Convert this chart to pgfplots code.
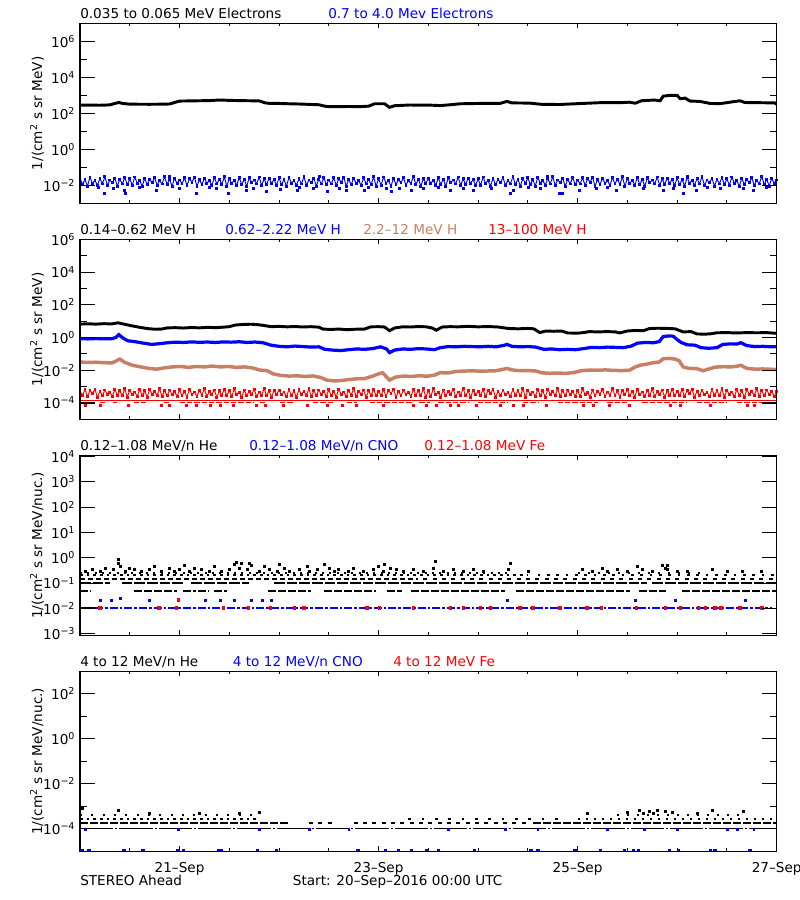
\documentclass[border=0pt]{standalone}
\usepackage{fontspec}
\setmainfont{DejaVu Sans}
\usepackage{pgfplots}
\pgfplotsset{compat=1.18}
\usepackage{pgfplotstable}
\definecolor{hbrown}{RGB}{200,128,100}
\definecolor{pblue}{RGB}{0,0,255}
\definecolor{pred}{RGB}{255,0,0}

% panel 1: 0.035-0.065 MeV electrons
\pgfplotstableread{
x y
0.00 290
0.10 285
0.20 282
0.30 295
0.35 355
0.39 400
0.43 355
0.50 325
0.60 320
0.70 318
0.80 322
0.90 330
0.95 400
1.00 480
1.10 490
1.20 500
1.30 510
1.40 550
1.50 525
1.60 510
1.70 500
1.80 490
1.86 380
1.90 360
2.00 355
2.10 340
2.20 330
2.30 315
2.40 300
2.46 250
2.50 235
2.60 235
2.70 240
2.80 235
2.90 250
2.96 340
3.06 340
3.11 215
3.16 265
3.31 290
3.52 285
3.62 270
3.72 300
3.82 340
4.02 355
4.22 355
4.29 460
4.34 380
4.52 370
4.64 315
4.82 310
5.05 355
5.22 390
5.42 390
5.52 415
5.58 365
5.64 500
5.77 550
5.83 500
5.86 900
5.93 1000
6.00 1000
6.03 650
6.08 700
6.13 480
6.23 460
6.33 355
6.43 345
6.53 415
6.63 500
6.68 400
6.83 390
6.98 380
7.00 320
}\tabElow

% noisy bands: b = 0.7-4.0 MeV electrons, r = 13-100 MeV H
\pgfplotstableread{
x b r
0 0.026 5.0e-4
0.025 0.011 3.0e-4
0.05 0.021 6.5e-4
0.075 0.009 2.5e-4
0.1 0.028 5.75e-4
0.125 0.013 3.75e-4
0.15 0.019 7.0e-4
0.175 0.010 2.25e-4
0.2 0.024 5.25e-4
0.225 0.012 2.75e-4
0.25 0.030 6.25e-4
0.275 0.010 3.25e-4
0.3 0.020 4.5e-4
0.325 0.014 2.5e-4
0.35 0.025 6.75e-4
0.375 0.009 3.0e-4
0.4 0.022 5.5e-4
0.425 0.012 2.75e-4
0.45 0.027 7.5e-4
0.475 0.011 2.25e-4
0.5 0.023 6.0e-4
0.525 0.010 3.25e-4
0.55 0.029 4.75e-4
0.575 0.013 2.5e-4
0.6 0.018 6.75e-4
0.625 0.009 2.75e-4
0.65 0.025 5.5e-4
0.675 0.011 2.25e-4
0.7 0.021 6.5e-4
0.725 0.014 3.5e-4
0.75 0.027 5.0e-4
0.775 0.010 3.0e-4
0.8 0.019 7.25e-4
0.825 0.012 2.5e-4
0.85 0.031 5.75e-4
0.875 0.011 2.75e-4
0.9 0.022 6.25e-4
0.925 0.009 3.25e-4
0.95 0.024 5.25e-4
0.975 0.013 2.5e-4
1 0.020 6.5e-4
1.025 0.012 2.75e-4
1.05 0.026 5.25e-4
1.075 0.010 2.25e-4
1.1 0.023 7.0e-4
1.125 0.015 3.25e-4
1.15 0.028 4.75e-4
1.175 0.009 2.5e-4
1.2 0.021 6.0e-4
1.225 0.011 3.0e-4
1.25 0.025 7.5e-4
1.275 0.013 2.5e-4
1.3 0.018 5.0e-4
1.325 0.010 3.5e-4
1.35 0.027 6.25e-4
1.375 0.012 2.25e-4
1.4 0.022 5.5e-4
1.425 0.011 3.0e-4
1.45 0.030 6.75e-4
1.475 0.009 2.75e-4
1.5 0.024 5.75e-4
1.525 0.013 2.5e-4
1.55 0.019 7.25e-4
1.575 0.010 3.25e-4
1.6 0.027 4.5e-4
1.625 0.011 2.25e-4
1.65 0.022 6.25e-4
1.675 0.009 2.75e-4
1.7 0.026 5.25e-4
1.725 0.014 3.5e-4
1.75 0.020 6.75e-4
1.775 0.012 2.5e-4
1.8 0.029 4.75e-4
1.825 0.010 3.0e-4
1.85 0.023 7.75e-4
1.875 0.011 2.75e-4
1.9 0.025 5.5e-4
1.925 0.013 2.25e-4
1.95 0.021 6.0e-4
1.975 0.010 3.25e-4
2 0.026 6.0e-4
2.025 0.011 3.25e-4
2.05 0.021 4.75e-4
2.075 0.009 2.5e-4
2.1 0.028 6.75e-4
2.125 0.013 2.75e-4
2.15 0.019 5.5e-4
2.175 0.010 2.25e-4
2.2 0.024 6.5e-4
2.225 0.012 3.5e-4
2.25 0.030 5.0e-4
2.275 0.010 3.0e-4
2.3 0.020 7.25e-4
2.325 0.014 2.5e-4
2.35 0.025 5.75e-4
2.375 0.009 2.75e-4
2.4 0.022 6.25e-4
2.425 0.012 3.25e-4
2.45 0.027 5.25e-4
2.475 0.011 2.5e-4
2.5 0.020 6.5e-4
2.525 0.012 2.75e-4
2.55 0.026 5.25e-4
2.575 0.010 2.25e-4
2.6 0.023 7.0e-4
2.625 0.015 3.25e-4
2.65 0.028 4.75e-4
2.675 0.009 2.5e-4
2.7 0.021 6.0e-4
2.725 0.011 3.0e-4
2.75 0.025 7.5e-4
2.775 0.013 2.5e-4
2.8 0.018 5.0e-4
2.825 0.010 3.5e-4
2.85 0.027 6.25e-4
2.875 0.012 2.25e-4
2.9 0.022 5.5e-4
2.925 0.011 3.0e-4
2.95 0.030 6.75e-4
2.975 0.009 2.75e-4
3 0.023 5.0e-4
3.025 0.010 3.0e-4
3.05 0.029 6.5e-4
3.075 0.013 2.5e-4
3.1 0.018 5.75e-4
3.125 0.009 3.75e-4
3.15 0.025 7.0e-4
3.175 0.011 2.25e-4
3.2 0.021 5.25e-4
3.225 0.014 2.75e-4
3.25 0.027 6.25e-4
3.275 0.010 3.25e-4
3.3 0.019 4.5e-4
3.325 0.012 2.5e-4
3.35 0.031 6.75e-4
3.375 0.011 3.0e-4
3.4 0.022 5.5e-4
3.425 0.009 2.75e-4
3.45 0.024 7.5e-4
3.475 0.013 2.25e-4
3.5 0.024 5.75e-4
3.525 0.013 2.5e-4
3.55 0.019 7.25e-4
3.575 0.010 3.25e-4
3.6 0.027 4.5e-4
3.625 0.011 2.25e-4
3.65 0.022 6.25e-4
3.675 0.009 2.75e-4
3.7 0.026 5.25e-4
3.725 0.014 3.5e-4
3.75 0.020 6.75e-4
3.775 0.012 2.5e-4
3.8 0.029 4.75e-4
3.825 0.010 3.0e-4
3.85 0.023 7.75e-4
3.875 0.011 2.75e-4
3.9 0.025 5.5e-4
3.925 0.013 2.25e-4
3.95 0.021 6.0e-4
3.975 0.010 3.25e-4
4 0.023 5.0e-4
4.025 0.010 3.0e-4
4.05 0.029 6.5e-4
4.075 0.013 2.5e-4
4.1 0.018 5.75e-4
4.125 0.009 3.75e-4
4.15 0.025 7.0e-4
4.175 0.011 2.25e-4
4.2 0.021 5.25e-4
4.225 0.014 2.75e-4
4.25 0.027 6.25e-4
4.275 0.010 3.25e-4
4.3 0.019 4.5e-4
4.325 0.012 2.5e-4
4.35 0.031 6.75e-4
4.375 0.011 3.0e-4
4.4 0.022 5.5e-4
4.425 0.009 2.75e-4
4.45 0.024 7.5e-4
4.475 0.013 2.25e-4
4.5 0.026 6.0e-4
4.525 0.011 3.25e-4
4.55 0.021 4.75e-4
4.575 0.009 2.5e-4
4.6 0.028 6.75e-4
4.625 0.013 2.75e-4
4.65 0.019 5.5e-4
4.675 0.010 2.25e-4
4.7 0.024 6.5e-4
4.725 0.012 3.5e-4
4.75 0.030 5.0e-4
4.775 0.010 3.0e-4
4.8 0.020 7.25e-4
4.825 0.014 2.5e-4
4.85 0.025 5.75e-4
4.875 0.009 2.75e-4
4.9 0.022 6.25e-4
4.925 0.012 3.25e-4
4.95 0.027 5.25e-4
4.975 0.011 2.5e-4
5 0.020 5.75e-4
5.025 0.012 2.5e-4
5.05 0.026 7.25e-4
5.075 0.010 3.25e-4
5.1 0.023 4.5e-4
5.125 0.015 2.25e-4
5.15 0.028 6.25e-4
5.175 0.009 2.75e-4
5.2 0.021 5.25e-4
5.225 0.011 3.5e-4
5.25 0.025 6.75e-4
5.275 0.013 2.5e-4
5.3 0.018 4.75e-4
5.325 0.010 3.0e-4
5.35 0.027 7.75e-4
5.375 0.012 2.75e-4
5.4 0.022 5.5e-4
5.425 0.011 2.25e-4
5.45 0.030 6.0e-4
5.475 0.009 3.25e-4
5.5 0.024 6.5e-4
5.525 0.013 2.75e-4
5.55 0.019 5.25e-4
5.575 0.010 2.25e-4
5.6 0.027 7.0e-4
5.625 0.011 3.25e-4
5.65 0.022 4.75e-4
5.675 0.009 2.5e-4
5.7 0.026 6.0e-4
5.725 0.014 3.0e-4
5.75 0.020 7.5e-4
5.775 0.012 2.5e-4
5.8 0.029 5.0e-4
5.825 0.010 3.5e-4
5.85 0.023 6.25e-4
5.875 0.011 2.25e-4
5.9 0.025 5.5e-4
5.925 0.013 3.0e-4
5.95 0.021 6.75e-4
5.975 0.010 2.75e-4
6 0.026 5.0e-4
6.025 0.011 3.0e-4
6.05 0.021 6.5e-4
6.075 0.009 2.5e-4
6.1 0.028 5.75e-4
6.125 0.013 3.75e-4
6.15 0.019 7.0e-4
6.175 0.010 2.25e-4
6.2 0.024 5.25e-4
6.225 0.012 2.75e-4
6.25 0.030 6.25e-4
6.275 0.010 3.25e-4
6.3 0.020 4.5e-4
6.325 0.014 2.5e-4
6.35 0.025 6.75e-4
6.375 0.009 3.0e-4
6.4 0.022 5.5e-4
6.425 0.012 2.75e-4
6.45 0.027 7.5e-4
6.475 0.011 2.25e-4
6.5 0.023 6.0e-4
6.525 0.010 3.25e-4
6.55 0.029 4.75e-4
6.575 0.013 2.5e-4
6.6 0.018 6.75e-4
6.625 0.009 2.75e-4
6.65 0.025 5.5e-4
6.675 0.011 2.25e-4
6.7 0.021 6.5e-4
6.725 0.014 3.5e-4
6.75 0.027 5.0e-4
6.775 0.010 3.0e-4
6.8 0.019 7.25e-4
6.825 0.012 2.5e-4
6.85 0.031 5.75e-4
6.875 0.011 2.75e-4
6.9 0.022 6.25e-4
6.925 0.009 3.25e-4
6.95 0.024 5.25e-4
6.975 0.013 2.5e-4
7 0.020 5.0e-4
}\tabBand

% panel 2 lines
\pgfplotstableread{
x y
0.00 6.6
0.08 6.9
0.16 6.6
0.24 7.0
0.32 6.8
0.38 7.9
0.44 6.6
0.52 5.2
0.60 4.2
0.68 3.5
0.76 3.2
0.82 3.3
0.88 3.9
0.96 4.0
1.04 3.8
1.12 4.1
1.20 3.9
1.28 4.2
1.36 4.0
1.44 4.3
1.50 4.6
1.56 5.8
1.64 6.3
1.72 6.5
1.80 6.0
1.86 5.3
1.92 4.6
2.00 4.8
2.08 4.5
2.16 4.7
2.24 4.4
2.32 4.6
2.40 4.3
2.44 3.3
2.52 3.1
2.60 3.3
2.68 3.0
2.76 3.2
2.86 3.3
2.92 4.5
3.00 4.6
3.06 4.4
3.11 2.6
3.16 3.8
3.24 4.5
3.32 4.4
3.40 4.7
3.48 4.5
3.54 3.8
3.58 2.8
3.64 4.4
3.72 4.6
3.80 4.5
3.90 4.8
4.00 4.5
4.10 4.7
4.20 4.4
4.30 3.6
4.40 3.4
4.50 3.6
4.56 3.4
4.62 2.0
4.68 2.5
4.76 2.4
4.84 2.5
4.90 1.9
5.00 1.85
5.06 2.0
5.12 2.3
5.20 2.2
5.30 2.3
5.38 2.2
5.42 1.9
5.50 2.5
5.58 2.7
5.66 2.6
5.72 3.5
5.80 3.7
5.90 3.6
5.98 3.4
6.06 2.2
6.14 2.3
6.20 1.65
6.28 1.6
6.34 1.7
6.40 1.95
6.50 2.0
6.60 1.9
6.70 2.0
6.80 1.95
6.90 2.0
7.00 1.8
}\tabHA

\pgfplotstableread{
x y
0.00 0.85
0.08 0.82
0.16 0.86
0.24 0.83
0.32 0.85
0.36 1.0
0.39 1.5
0.43 0.95
0.48 0.63
0.56 0.55
0.64 0.45
0.72 0.38
0.80 0.42
0.88 0.48
0.96 0.52
1.04 0.50
1.12 0.54
1.20 0.51
1.28 0.53
1.36 0.50
1.44 0.54
1.52 0.52
1.60 0.55
1.68 0.50
1.76 0.53
1.84 0.48
1.92 0.34
2.00 0.29
2.08 0.27
2.16 0.30
2.24 0.28
2.32 0.26
2.40 0.27
2.46 0.19
2.54 0.17
2.62 0.16
2.70 0.18
2.78 0.20
2.86 0.19
2.94 0.21
3.02 0.27
3.08 0.20
3.11 0.12
3.16 0.17
3.24 0.20
3.32 0.19
3.40 0.21
3.48 0.20
3.56 0.18
3.62 0.24
3.70 0.28
3.78 0.27
3.86 0.29
3.94 0.28
4.02 0.27
4.10 0.29
4.18 0.27
4.26 0.33
4.29 0.38
4.34 0.29
4.42 0.27
4.50 0.28
4.58 0.26
4.66 0.19
4.74 0.20
4.82 0.18
4.90 0.19
4.98 0.18
5.06 0.21
5.14 0.25
5.22 0.24
5.30 0.26
5.38 0.25
5.46 0.24
5.54 0.30
5.60 0.45
5.68 0.50
5.76 0.48
5.82 0.56
5.86 1.15
5.92 1.25
5.96 1.2
6.00 0.75
6.04 0.50
6.10 0.36
6.18 0.34
6.24 0.24
6.32 0.22
6.40 0.24
6.46 0.38
6.54 0.41
6.60 0.40
6.64 0.48
6.70 0.32
6.78 0.28
6.86 0.29
6.94 0.27
7.00 0.28
}\tabHB

\pgfplotstableread{
x y
0.00 0.032
0.08 0.030
0.16 0.031
0.24 0.029
0.32 0.028
0.36 0.036
0.40 0.048
0.45 0.030
0.53 0.020
0.61 0.016
0.69 0.013
0.77 0.0117
0.85 0.014
0.93 0.016
1.01 0.017
1.09 0.015
1.17 0.017
1.25 0.016
1.33 0.018
1.41 0.016
1.49 0.017
1.57 0.015
1.65 0.016
1.73 0.014
1.81 0.0102
1.88 0.0095
1.94 0.0060
2.02 0.0048
2.10 0.0044
2.18 0.0046
2.26 0.0042
2.34 0.0045
2.42 0.0036
2.48 0.0025
2.56 0.0022
2.64 0.0024
2.70 0.0027
2.78 0.0030
2.86 0.0031
2.94 0.0044
3.00 0.0060
3.04 0.0071
3.11 0.0025
3.17 0.0038
3.25 0.0044
3.33 0.0042
3.41 0.0046
3.49 0.0043
3.56 0.0050
3.62 0.0071
3.70 0.0068
3.78 0.0085
3.86 0.0089
3.94 0.0092
4.02 0.0088
4.10 0.0090
4.18 0.0093
4.24 0.0110
4.29 0.0129
4.34 0.0105
4.42 0.0093
4.50 0.0095
4.58 0.0090
4.64 0.0070
4.72 0.0065
4.80 0.0068
4.88 0.0064
4.96 0.0072
5.04 0.0095
5.12 0.0102
5.20 0.0100
5.28 0.0105
5.36 0.0098
5.44 0.0095
5.52 0.0100
5.58 0.0160
5.64 0.021
5.70 0.024
5.76 0.029
5.82 0.032
5.86 0.050
5.92 0.053
5.98 0.048
6.02 0.038
6.06 0.016
6.12 0.013
6.20 0.0125
6.26 0.0093
6.32 0.0120
6.38 0.0155
6.46 0.0165
6.54 0.0160
6.60 0.0175
6.64 0.020
6.70 0.0130
6.78 0.0117
6.86 0.0120
6.94 0.0115
7.00 0.0110
}\tabHC

\begin{document}
\fontsize{10.2pt}{12pt}\selectfont
\begin{tikzpicture}
\path[use as bounding box] (0,0) rectangle (600pt,-675pt);

% ---------------- panel 1
\begin{axis}[at={(60pt,-17.5pt)}, anchor=north west, scale only axis, width=522.5pt, height=135pt,
  xmin=0, xmax=7, ymode=log, ymin=1e-3, ymax=1e7,
  axis line style={line width=0.8pt}, tick style={line width=0.8pt, black}, tick align=inside,
  xtick={1,3,5,7}, minor xtick={0.5,1.5,2,2.5,3.5,4,4.5,5.5,6,6.5}, xticklabels={,,,}, ytick=\empty,
  major tick length=3.75pt, minor tick length=2.25pt, unbounded coords=jump]
\addplot[pblue, line width=0.7pt, mark=square*, mark size=0.7pt] table[x=x, y=b] {\tabBand};
\addplot[pblue, only marks, mark=square*, mark size=0.75pt] coordinates {(0.18,0.0078)(0.24,0.0035)(0.33,0.0068)(0.44,0.0055)(0.45,0.0035)(0.77,0.0055)(1.00,0.0068)(1.17,0.0035)(1.37,0.0068)(1.49,0.0035)(1.67,0.0055)(1.74,0.0068)(1.87,0.0044)(2.01,0.006)(2.18,0.0055)(2.34,0.0068)(2.48,0.0044)(2.61,0.0068)(2.68,0.0055)(2.86,0.0055)(3.08,0.0068)(3.13,0.0044)(3.21,0.0068)(3.33,0.0055)(3.45,0.0068)(3.72,0.0055)(3.85,0.0068)(3.95,0.0055)(4.13,0.0068)(4.32,0.0035)(4.35,0.0055)(4.62,0.0068)(4.82,0.0035)(4.85,0.0035)(5.02,0.0055)(5.19,0.0068)(5.39,0.0055)(5.66,0.0068)(5.86,0.0055)(5.96,0.0068)(6.06,0.0035)(6.19,0.0055)(6.43,0.0068)(6.66,0.0068)(6.76,0.0055)(0.6,0.0075)(1.3,0.0078)(2.2,0.0075)(2.9,0.0078)(3.6,0.0075)(4.5,0.0078)(5.3,0.0075)(6.3,0.0078)(6.9,0.0075)(0.9,0.034)(2.4,0.033)(4.7,0.034)(6.1,0.033)};
\addplot[black, line width=2.2pt] table[x=x, y=y] {\tabElow};
\end{axis}
\begin{axis}[at={(60pt,-17.5pt)}, anchor=north west, scale only axis, width=522.5pt, height=135pt,
  xmin=0, xmax=7, ymode=log, ymin=1e-3, ymax=1e7,
  axis line style={line width=0.8pt}, tick style={line width=0.8pt, black}, tick align=inside,
  xtick=\empty, major tick length=11.25pt, minor tick length=5.25pt,
  ytick={1e-2,1,1e2,1e4,1e6}, minor ytick={1e-1,1e1,1e3,1e5},
  yticklabels={10\textsuperscript{−2},10\textsuperscript{0},10\textsuperscript{2},10\textsuperscript{4},10\textsuperscript{6}}]
\end{axis}

% ---------------- panel 2
\begin{axis}[at={(60pt,-179.5pt)}, anchor=north west, scale only axis, width=522.5pt, height=135pt,
  xmin=0, xmax=7, ymode=log, ymin=1e-5, ymax=1e6,
  axis line style={line width=0.8pt}, tick style={line width=0.8pt, black}, tick align=inside,
  xtick={1,3,5,7}, minor xtick={0.5,1.5,2,2.5,3.5,4,4.5,5.5,6,6.5}, xticklabels={,,,}, ytick=\empty,
  major tick length=3.75pt, minor tick length=2.25pt, unbounded coords=jump]
\addplot[pred, line width=0.7pt, mark=square*, mark size=0.7pt] table[x=x, y=r] {\tabBand};
\addplot[pred, line width=0.6pt] coordinates {(0,1.4e-4)(7,1.4e-4)};
\addplot[pred, line width=1.1pt, dash pattern=on 4pt off 1.5pt] coordinates {(0,1.1e-4)(0.13,1.1e-4)(0.14,nan)(0.2,1.1e-4)(0.27,1.1e-4)(0.28,nan)(0.33,1.1e-4)(0.37,1.1e-4)(0.38,nan)(0.54,1.1e-4)(0.67,1.1e-4)(0.68,nan)(0.84,1.1e-4)(0.9,1.1e-4)(0.91,nan)(1.0,1.1e-4)(1.74,1.1e-4)(1.75,nan)(1.81,1.1e-4)(1.87,1.1e-4)(1.88,nan)(2.01,1.1e-4)(2.14,1.1e-4)(2.15,nan)(2.34,1.1e-4)(2.54,1.1e-4)(2.55,nan)(2.68,1.1e-4)(2.78,1.1e-4)(2.79,nan)(2.91,1.1e-4)(3.35,1.1e-4)(3.36,nan)(3.41,1.1e-4)(3.52,1.1e-4)(3.53,nan)(3.6,1.1e-4)(3.9,1.1e-4)(3.91,nan)(4.0,1.1e-4)(4.3,1.1e-4)(4.31,nan)(4.45,1.1e-4)(4.6,1.1e-4)(4.61,nan)(4.8,1.1e-4)(5.2,1.1e-4)(5.21,nan)(5.3,1.1e-4)(5.5,1.1e-4)(5.51,nan)(5.65,1.1e-4)(6.1,1.1e-4)(6.11,nan)(6.2,1.1e-4)(6.5,1.1e-4)(6.51,nan)(6.6,1.1e-4)(7,1.1e-4)};
\addplot[pred, only marks, mark=square*, mark size=0.75pt] coordinates {(0.05,7e-5)(0.2,7e-5)(0.49,7e-5)(0.82,7e-5)(0.9,7e-5)(1.07,7e-5)(1.17,7e-5)(1.31,7e-5)(1.41,7e-5)(1.54,7e-5)(1.77,7e-5)(1.86,7e-5)(2.04,7e-5)(2.28,7e-5)(2.48,7e-5)(2.64,7e-5)(2.78,7e-5)(3.05,7e-5)(3.35,7e-5)(3.48,7e-5)(3.58,7e-5)(3.72,7e-5)(3.8,7e-5)(3.98,7e-5)(4.22,7e-5)(4.35,7e-5)(4.45,7e-5)(4.69,7e-5)(5.06,7e-5)(5.16,7e-5)(5.32,7e-5)(5.52,7e-5)(5.93,7e-5)(6.03,7e-5)(6.33,7e-5)(6.7,7e-5)(6.78,7e-5)};
\addplot[hbrown, line width=2.6pt] table[x=x, y=y] {\tabHC};
\addplot[pblue, line width=2.4pt] table[x=x, y=y] {\tabHB};
\addplot[black, line width=2.2pt] table[x=x, y=y] {\tabHA};
\end{axis}
\begin{axis}[at={(60pt,-179.5pt)}, anchor=north west, scale only axis, width=522.5pt, height=135pt,
  xmin=0, xmax=7, ymode=log, ymin=1e-5, ymax=1e6,
  axis line style={line width=0.8pt}, tick style={line width=0.8pt, black}, tick align=inside,
  xtick=\empty, major tick length=11.25pt, minor tick length=5.25pt,
  ytick={1e-4,1e-2,1,1e2,1e4,1e6}, minor ytick={1e-3,1e-1,1e1,1e3,1e5},
  yticklabels={10\textsuperscript{−4},10\textsuperscript{−2},10\textsuperscript{0},10\textsuperscript{2},10\textsuperscript{4},10\textsuperscript{6}}]
\end{axis}

% ---------------- panel 3
\begin{axis}[at={(60pt,-341.5pt)}, anchor=north west, scale only axis, width=522.5pt, height=135pt,
  xmin=0, xmax=7, ymode=log, ymin=8.7e-4, ymax=1.1e4,
  axis line style={line width=0.8pt}, tick style={line width=0.8pt, black}, tick align=inside,
  xtick={1,3,5,7}, minor xtick={0.5,1.5,2,2.5,3.5,4,4.5,5.5,6,6.5}, xticklabels={,,,}, ytick=\empty,
  major tick length=3.75pt, minor tick length=2.25pt, unbounded coords=jump]
\addplot[black, line width=1.5pt, dash pattern=on 6pt off 1.5pt] coordinates {(0,0.05)(0.11,0.05)(0.12,nan)(0.54,0.05)(0.97,0.05)(0.98,nan)(1.03,0.05)(1.17,0.05)(1.18,nan)(1.19,0.05)(1.30,0.05)(1.31,nan)(1.35,0.05)(1.48,0.05)(1.49,nan)(1.89,0.05)(2.32,0.05)(2.33,nan)(2.45,0.05)(2.97,0.05)(2.98,nan)(3.08,0.05)(3.24,0.05)(3.25,nan)(3.33,0.05)(4.27,0.05)(4.28,nan)(4.38,0.05)(5.53,0.05)(5.54,nan)(5.62,0.05)(5.89,0.05)(5.9,nan)(6.05,0.05)(7,0.05)};
\addplot[black, line width=1.5pt, dash pattern=on 8pt off 1.5pt] coordinates {(0,0.1)(0.3,0.1)(0.31,nan)(0.42,0.1)(1.05,0.1)(1.06,nan)(1.12,0.1)(1.7,0.1)(1.71,nan)(1.95,0.1)(5.7,0.1)(5.71,nan)(5.75,0.1)(7,0.1)};
\addplot[black, line width=1.5pt, dash pattern=on 4pt off 2pt] coordinates {(0,0.145)(3.4,0.145)};
\addplot[black, line width=1.5pt, dash pattern=on 3pt off 4pt] coordinates {(3.45,0.145)(7,0.145)};
\addplot[black, line width=1.5pt, dash pattern=on 2pt off 3pt] coordinates {(0,0.2)(4.5,0.2)};
\addplot[black, line width=1.5pt, dash pattern=on 2pt off 5pt] coordinates {(4.6,0.2)(7,0.2)};
\addplot[black, line width=1.5pt, dash pattern=on 1.5pt off 4pt] coordinates {(0,0.25)(4.3,0.25)};
\addplot[black, line width=1.5pt, dash pattern=on 1.5pt off 6pt] coordinates {(5.0,0.25)(6.3,0.25)};
\addplot[black, only marks, mark=square*, mark size=0.75pt] coordinates {(0.05,0.3)(0.12,0.35)(0.2,0.3)(0.25,0.4)(0.33,0.35)(0.38,0.6)(0.4,0.45)(0.45,0.3)(0.5,0.4)(0.55,0.35)(0.62,0.3)(0.7,0.35)(0.75,0.45)(0.82,0.3)(0.9,0.4)(0.95,0.3)(1.0,0.35)(1.05,0.5)(1.1,0.3)(1.15,0.4)(1.22,0.35)(1.3,0.3)(1.35,0.45)(1.42,0.3)(1.5,0.35)(1.55,0.55)(1.6,0.4)(1.62,0.6)(1.68,0.35)(1.72,0.5)(1.8,0.3)(1.85,0.45)(1.9,0.35)(1.98,0.3)(2.05,0.4)(2.1,0.3)(2.2,0.35)(2.28,0.45)(2.3,0.3)(2.38,0.35)(2.45,0.55)(2.5,0.4)(2.55,0.3)(2.6,0.35)(2.7,0.3)(2.75,0.4)(2.85,0.3)(2.95,0.35)(3.0,0.45)(3.05,0.3)(3.12,0.4)(3.18,0.35)(3.25,0.3)(3.35,0.35)(3.45,0.3)(3.55,0.4)(3.65,0.3)(3.75,0.35)(3.85,0.3)(3.95,0.35)(4.05,0.3)(4.3,0.35)(4.5,0.3)(5.05,0.35)(5.15,0.3)(5.25,0.4)(5.3,0.3)(5.4,0.35)(5.5,0.3)(5.6,0.45)(5.65,0.35)(5.75,0.3)(5.85,0.5)(5.88,0.4)(5.9,0.35)(6.0,0.3)(6.1,0.3)(6.35,0.35)(6.5,0.3)(6.65,0.3)(6.85,0.3)(0.38,0.85)(3.57,0.7)(1.57,0.65)(3.06,0.55)(4.32,0.6)(5.9,0.5)(1.7,0.62)(2.0,0.55)};
\addplot[black, line width=1.5pt] coordinates {(0,0.0107)(0.15,0.0107)};
\addplot[pblue, line width=1.5pt, dash pattern=on 6pt off 1.5pt on 2pt off 1.5pt] coordinates {(0.15,0.0107)(6.95,0.0107)};
\addplot[pred, only marks, mark=square*, mark size=0.9pt] coordinates {(0.2,0.0107)(0.79,0.0107)(0.97,0.0107)(1.44,0.0107)(1.69,0.0107)(1.91,0.0107)(2.15,0.0107)(2.25,0.0107)(2.88,0.0107)(3.01,0.0107)(3.35,0.0107)(3.72,0.0107)(3.85,0.0107)(4.02,0.0107)(4.12,0.0107)(4.42,0.0107)(4.55,0.0107)(4.82,0.0107)(5.09,0.0107)(5.24,0.0107)(5.59,0.0107)(5.88,0.0107)(6.03,0.0107)(6.21,0.0107)(6.28,0.0107)(6.38,0.0107)(6.44,0.0107)(6.63,0.0107)(6.85,0.0107)(0.99,0.022)};
\addplot[pblue, only marks, mark=square*, mark size=0.75pt] coordinates {(0.2,0.022)(0.31,0.022)(0.4,0.026)(0.7,0.022)(1.26,0.022)(1.41,0.022)(1.55,0.022)(1.72,0.022)(1.83,0.022)(1.92,0.022)(4.29,0.022)(5.58,0.022)(5.98,0.022)(6.68,0.022)};
\end{axis}
\begin{axis}[at={(60pt,-341.5pt)}, anchor=north west, scale only axis, width=522.5pt, height=135pt,
  xmin=0, xmax=7, ymode=log, ymin=8.7e-4, ymax=1.1e4,
  axis line style={line width=0.8pt}, tick style={line width=0.8pt, black}, tick align=inside,
  xtick=\empty, major tick length=11.25pt, minor tick length=5.25pt,
  ytick={1e-3,1e-2,1e-1,1,1e1,1e2,1e3,1e4}, minor ytick={1e4},
  yticklabels={10\textsuperscript{−3},10\textsuperscript{−2},10\textsuperscript{−1},10\textsuperscript{0},10\textsuperscript{1},10\textsuperscript{2},10\textsuperscript{3},10\textsuperscript{4}}]
\end{axis}

% ---------------- panel 4
\begin{axis}[at={(60pt,-503.5pt)}, anchor=north west, scale only axis, width=522.5pt, height=135pt,
  xmin=0, xmax=7, ymode=log, ymin=1e-5, ymax=1e3,
  axis line style={line width=0.8pt}, tick style={line width=0.8pt, black}, tick align=inside,
  xtick={1,3,5,7}, minor xtick={0.5,1.5,2,2.5,3.5,4,4.5,5.5,6,6.5}, ytick=\empty,
  xticklabels={21–Sep,23–Sep,25–Sep,27–Sep}, xticklabel style={anchor=base, yshift=-15.5pt},
  major tick length=3.75pt, minor tick length=2.25pt, unbounded coords=jump]
\addplot[black, line width=0.8pt, dash pattern=on 25pt off 1.5pt on 1.5pt off 1.5pt] coordinates {(0,1e-4)(7,1e-4)};
\addplot[black, line width=1.5pt, dash pattern=on 6pt off 1.5pt] coordinates {(0,1.8e-4)(2.1,1.8e-4)(2.11,nan)(4.55,1.8e-4)(7,1.8e-4)};
\addplot[black, line width=1.5pt, dash pattern=on 3pt off 4pt] coordinates {(2.3,1.8e-4)(2.55,1.8e-4)(2.56,nan)(2.75,1.8e-4)(4.5,1.8e-4)};
\addplot[black, line width=1.5pt, dash pattern=on 2pt off 3pt] coordinates {(0,2.8e-4)(1.8,2.8e-4)};
\addplot[black, line width=1.5pt, dash pattern=on 2pt off 8pt] coordinates {(3.3,2.8e-4)(4.9,2.8e-4)};
\addplot[black, line width=1.5pt, dash pattern=on 2pt off 4pt] coordinates {(5.0,2.8e-4)(7,2.8e-4)};
\addplot[black, line width=1.5pt, dash pattern=on 1.5pt off 7pt] coordinates {(0,4e-4)(1.8,4e-4)};
\addplot[black, line width=1.5pt, dash pattern=on 1.5pt off 6pt] coordinates {(5.4,4e-4)(6.7,4e-4)};
\addplot[black, only marks, mark=square*, mark size=0.75pt] coordinates {(0.02,8.5e-4)(0.38,6.5e-4)(1.8,5.5e-4)(5.5,5.5e-4)(5.62,6.5e-4)(5.72,6e-4)(5.8,7e-4)(5.88,6e-4)(5.95,5.5e-4)(6.35,7e-4)(6.66,6e-4)(0.7,5e-4)(1.2,5e-4)(1.6,5e-4)(5.1,5e-4)(6.2,5e-4)(5.66,5e-4)(5.76,5e-4)};
\addplot[pblue, only marks, mark=square*, mark size=0.7pt] coordinates {(0.05,1e-4)(0.99,1e-4)(1.8,1e-4)(2.3,1e-4)(2.7,1e-4)(3.7,1e-4)(4.27,1e-4)(4.6,1e-4)(5.3,1e-4)(5.67,1e-4)(6.0,1e-4)(6.5,1e-4)(6.6,1e-4)(6.77,1e-4)};
\addplot[pblue, only marks, mark=square*, mark size=0.9pt] coordinates {(0.02,1.15e-5)(0.09,1.15e-5)(0.44,1.15e-5)(0.63,1.15e-5)(0.98,1.15e-5)(1.04,1.15e-5)(1.39,1.15e-5)(1.42,1.15e-5)(1.78,1.15e-5)(1.97,1.15e-5)(2.79,1.15e-5)(3.07,1.15e-5)(3.2,1.15e-5)(3.33,1.15e-5)(3.48,1.15e-5)(3.6,1.15e-5)(3.96,1.15e-5)(4.53,1.15e-5)(4.6,1.15e-5)(4.97,1.15e-5)(5.23,1.15e-5)(5.47,1.15e-5)(5.56,1.15e-5)(5.61,1.15e-5)(5.92,1.15e-5)(6.01,1.15e-5)(6.33,1.15e-5)(6.38,1.15e-5)(6.73,1.15e-5)};
\end{axis}
\begin{axis}[at={(60pt,-503.5pt)}, anchor=north west, scale only axis, width=522.5pt, height=135pt,
  xmin=0, xmax=7, ymode=log, ymin=1e-5, ymax=1e3,
  axis line style={line width=0.8pt}, tick style={line width=0.8pt, black}, tick align=inside,
  xtick=\empty, major tick length=11.25pt, minor tick length=5.25pt,
  ytick={1e-4,1e-2,1,1e2}, minor ytick={1e-3,1e-1,1e1},
  yticklabels={10\textsuperscript{−4},10\textsuperscript{−2},10\textsuperscript{0},10\textsuperscript{2}}]
\end{axis}

% ---------------- titles
\node[anchor=base west, inner sep=0] at (60pt,-13.7pt) {0.035 to 0.065 MeV Electrons};
\node[anchor=base west, inner sep=0, text=pblue] at (246pt,-13.7pt) {0.7 to 4.0 Mev Electrons};
\node[anchor=base west, inner sep=0] at (60pt,-175.7pt) {0.14–0.62 MeV H};
\node[anchor=base west, inner sep=0, text=pblue] at (168.75pt,-175.7pt) {0.62–2.22 MeV H};
\node[anchor=base west, inner sep=0, text=hbrown] at (272.25pt,-175.7pt) {2.2–12 MeV H};
\node[anchor=base west, inner sep=0, text=pred] at (366pt,-175.7pt) {13–100 MeV H};
\node[anchor=base west, inner sep=0] at (60pt,-337.7pt) {0.12–1.08 MeV/n He};
\node[anchor=base west, inner sep=0, text=pblue] at (186.75pt,-337.7pt) {0.12–1.08 MeV/n CNO};
\node[anchor=base west, inner sep=0, text=pred] at (318pt,-337.7pt) {0.12–1.08 MeV Fe};
\node[anchor=base west, inner sep=0] at (60pt,-499.7pt) {4 to 12 MeV/n He};
\node[anchor=base west, inner sep=0, text=pblue] at (174.5pt,-499.7pt) {4 to 12 MeV/n CNO};
\node[anchor=base west, inner sep=0, text=pred] at (294.75pt,-499.7pt) {4 to 12 MeV Fe};

% ---------------- y labels
\node[rotate=90, anchor=base] at (31.5pt,-85pt) {1/(cm\textsuperscript{2} s sr MeV)};
\node[rotate=90, anchor=base] at (31.5pt,-247pt) {1/(cm\textsuperscript{2} s sr MeV)};
\node[rotate=90, anchor=base] at (31.5pt,-409pt) {1/(cm\textsuperscript{2} s sr MeV/nuc.)};
\node[rotate=90, anchor=base] at (31.5pt,-571pt) {1/(cm\textsuperscript{2} s sr MeV/nuc.)};

% ---------------- footer
\node[anchor=base west, inner sep=0] at (60pt,-664.1pt) {STEREO Ahead};
\node[anchor=base west, inner sep=0] at (219.5pt,-664.1pt) {Start: 20–Sep–2016 00:00 UTC};
\end{tikzpicture}
\end{document}
